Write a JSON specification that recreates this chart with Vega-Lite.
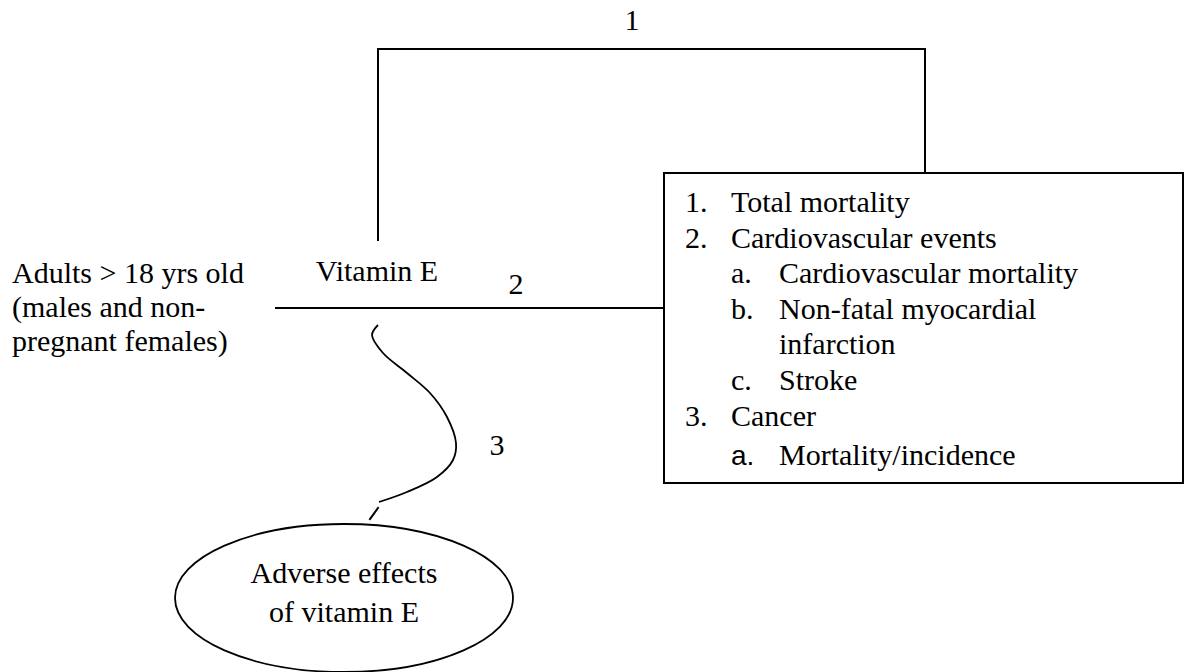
{
  "$schema": "https://vega.github.io/schema/vega-lite/v6.json",
  "width": 1185,
  "height": 672,
  "padding": 0,
  "autosize": {"type": "none"},
  "background": "white",
  "config": {"view": {"stroke": null}},
  "datasets": {
    "segments": [
      {"seg": "bracket", "ord": 1, "x": 378, "y": 240},
      {"seg": "bracket", "ord": 2, "x": 378, "y": 49},
      {"seg": "bracket", "ord": 3, "x": 925, "y": 49},
      {"seg": "bracket", "ord": 4, "x": 925, "y": 173},
      {"seg": "link2", "ord": 1, "x": 276, "y": 308},
      {"seg": "link2", "ord": 2, "x": 664, "y": 308},
      {"seg": "box", "ord": 1, "x": 664, "y": 173},
      {"seg": "box", "ord": 2, "x": 1183, "y": 173},
      {"seg": "box", "ord": 3, "x": 1183, "y": 483},
      {"seg": "box", "ord": 4, "x": 664, "y": 483},
      {"seg": "box", "ord": 5, "x": 664, "y": 173},
      {"seg": "dash", "ord": 1, "x": 378, "y": 508},
      {"seg": "dash", "ord": 2, "x": 370, "y": 519}
    ],
    "curve": [
      {"ord": 1, "x": 378, "y": 325},
      {"ord": 2, "x": 372, "y": 335},
      {"ord": 3, "x": 383, "y": 353},
      {"ord": 4, "x": 407, "y": 373},
      {"ord": 5, "x": 430, "y": 393},
      {"ord": 6, "x": 447, "y": 417},
      {"ord": 7, "x": 456, "y": 443},
      {"ord": 8, "x": 453, "y": 460},
      {"ord": 9, "x": 437, "y": 477},
      {"ord": 10, "x": 407, "y": 492},
      {"ord": 11, "x": 379, "y": 502}
    ],
    "ellipse": [{"x": 344, "y": 598}],
    "leftText": [
      {"t": "Adults > 18 yrs old", "x": 12, "y": 283},
      {"t": "(males and non-", "x": 12, "y": 317},
      {"t": "pregnant females)", "x": 12, "y": 351},
      {"t": "1.", "x": 685, "y": 212},
      {"t": "Total mortality", "x": 731, "y": 212},
      {"t": "2.", "x": 685, "y": 248},
      {"t": "Cardiovascular events", "x": 731, "y": 248},
      {"t": "a.", "x": 731, "y": 283},
      {"t": "Cardiovascular mortality", "x": 779, "y": 283},
      {"t": "b.", "x": 731, "y": 319},
      {"t": "Non-fatal myocardial", "x": 779, "y": 319},
      {"t": "infarction", "x": 779, "y": 354},
      {"t": "c.", "x": 731, "y": 390},
      {"t": "Stroke", "x": 779, "y": 390},
      {"t": "3.", "x": 685, "y": 426},
      {"t": "Cancer", "x": 731, "y": 426},
      {"t": "Mortality/incidence", "x": 779, "y": 465}
    ],
    "sansText": [
      {"t": "a.", "x": 731, "y": 465}
    ],
    "centerText": [
      {"t": "1", "x": 632, "y": 30},
      {"t": "Vitamin E", "x": 377, "y": 281},
      {"t": "2", "x": 516, "y": 294},
      {"t": "3", "x": 497, "y": 455},
      {"t": "Adverse effects", "x": 344, "y": 583},
      {"t": "of vitamin E", "x": 344, "y": 622}
    ]
  },
  "encoding": {
    "x": {"field": "x", "type": "quantitative", "scale": {"domain": [0, 1185], "nice": false, "zero": false}, "axis": null},
    "y": {"field": "y", "type": "quantitative", "scale": {"domain": [0, 672], "nice": false, "zero": false, "reverse": true}, "axis": null}
  },
  "layer": [
    {
      "data": {"name": "segments"},
      "mark": {"type": "line", "color": "black", "strokeWidth": 2, "strokeCap": "square", "clip": false},
      "encoding": {
        "detail": {"field": "seg", "type": "nominal"},
        "order": {"field": "ord", "type": "quantitative"}
      }
    },
    {
      "data": {"name": "curve"},
      "mark": {"type": "line", "color": "black", "strokeWidth": 1.8, "interpolate": "catmull-rom"},
      "encoding": {
        "order": {"field": "ord", "type": "quantitative"}
      }
    },
    {
      "data": {"name": "ellipse"},
      "mark": {
        "type": "point",
        "filled": false,
        "color": "black",
        "strokeWidth": 1.8,
        "opacity": 1,
        "size": 114244,
        "shape": "M -1 0 C -1 -0.2418 -0.5523 -0.4379 0 -0.4379 C 0.5523 -0.4379 1 -0.2418 1 0 C 1 0.2418 0.5523 0.4379 0 0.4379 C -0.5523 0.4379 -1 0.2418 -1 0 Z",
        "clip": false
      }
    },
    {
      "data": {"name": "leftText"},
      "mark": {"type": "text", "align": "left", "baseline": "alphabetic", "font": "Liberation Serif", "fontSize": 30, "color": "black"},
      "encoding": {"text": {"field": "t", "type": "nominal"}}
    },
    {
      "data": {"name": "sansText"},
      "mark": {"type": "text", "align": "left", "baseline": "alphabetic", "font": "Liberation Sans", "fontSize": 28, "color": "black"},
      "encoding": {"text": {"field": "t", "type": "nominal"}}
    },
    {
      "data": {"name": "centerText"},
      "mark": {"type": "text", "align": "center", "baseline": "alphabetic", "font": "Liberation Serif", "fontSize": 30, "color": "black"},
      "encoding": {"text": {"field": "t", "type": "nominal"}}
    }
  ]
}
